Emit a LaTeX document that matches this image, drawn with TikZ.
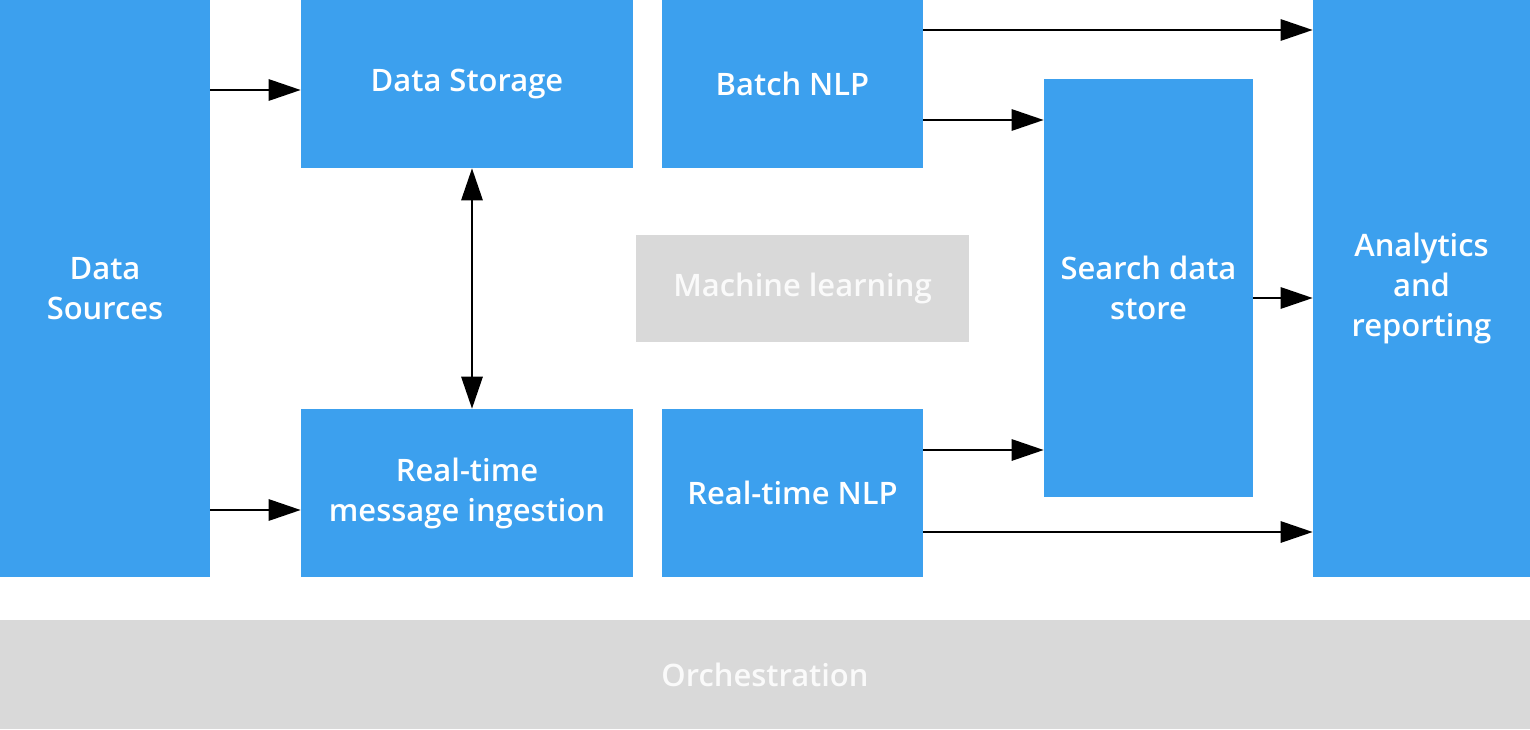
\documentclass[tikz,border=0pt]{standalone}
\usepackage{fontspec}
\setmainfont{Open Sans}[BoldFont={Open Sans Semibold}]
\usetikzlibrary{arrows.meta}
\definecolor{azblue}{RGB}{60,160,238}
\definecolor{azgray}{RGB}{217,217,217}

\begin{document}
\begin{tikzpicture}[x=0.025cm,y=-0.025cm,
  box/.style={fill=azblue,text=white,inner sep=0pt,align=center,
    font=\fontsize{22}{28.5}\selectfont\bfseries},
  greybox/.style={box,fill=azgray,text=white!98!black},
  flow/.style={line width=1.7pt,-{Triangle[length=0.8cm,width=0.53cm]}},
  twoway/.style={line width=1.7pt,{Triangle[length=0.8cm,width=0.53cm]}-{Triangle[length=0.8cm,width=0.53cm]}}]
\useasboundingbox (0,0) rectangle (1530,729);

% Sources and ingestion
\node[box,minimum width=5.25cm,minimum height=14.425cm] (src) at (105,288.5) {Data\\Sources};
\node[box,minimum width=8.3cm,minimum height=4.2cm] (store) at (467,84) {Data Storage};
\node[box,minimum width=8.3cm,minimum height=4.2cm] (ingest) at (467,493) {Real-time\\message ingestion};

% Processing
\node[box,minimum width=6.525cm,minimum height=4.2cm] (batch) at (792.5,84) {Batch NLP};
\node[box,minimum width=6.525cm,minimum height=4.2cm] (rtnlp) at (792.5,493) {Real-time NLP};
\node[greybox,minimum width=8.325cm,minimum height=2.675cm] (ml) at (802.5,288.5) {Machine learning};

% Serving
\node[box,minimum width=5.225cm,minimum height=10.45cm] (search) at (1148.5,288) {Search data\\store};
\node[box,minimum width=5.425cm,minimum height=14.425cm] (report) at (1421.5,288.5) {Analytics\\and\\reporting};

% Orchestration
\node[greybox,minimum width=38.25cm,minimum height=2.725cm] (orch) at (765,674.5) {Orchestration};

% Arrows
\draw[flow] (src.east |- 0,90) -- (store.west |- 0,90);
\draw[flow] (src.east |- 0,510) -- (ingest.west |- 0,510);
\draw[twoway] (store.south -| 472,0) -- (ingest.north -| 472,0);
\draw[flow] (batch.east |- 0,30) -- (report.west |- 0,30);
\draw[flow] (batch.east |- 0,120) -- (search.west |- 0,120);
\draw[flow] (search.east |- 0,298) -- (report.west |- 0,298);
\draw[flow] (rtnlp.east |- 0,450) -- (search.west |- 0,450);
\draw[flow] (rtnlp.east |- 0,532) -- (report.west |- 0,532);

\end{tikzpicture}
\end{document}
